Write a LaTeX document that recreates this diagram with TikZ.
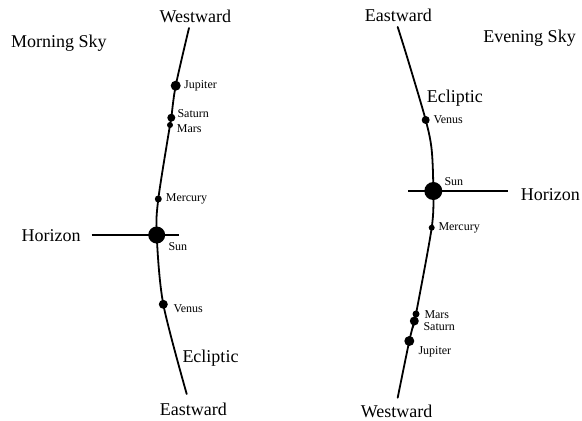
\documentclass[tikz,border=0pt]{standalone}
\usepackage{fontspec}
\setmainfont{Liberation Serif}
\tikzset{
  bigtext/.style={font=\fontsize{18}{20}\selectfont, inner sep=0pt},
  smalltext/.style={font=\fontsize{12}{14}\selectfont, inner sep=0pt, anchor=west},
  planet/.style={circle, fill=black, inner sep=0pt, minimum size=#1},
  ecliptic/.style={line width=1.8pt, line cap=round},
  horizon/.style={line width=1.3pt}
}

\begin{document}
\begin{tikzpicture}[x=1pt,y=-1pt]
\useasboundingbox (0,0) rectangle (582,421);
\coordinate (LT) at (189,28); \coordinate (LJ) at (175.7,85.7); \coordinate (LS) at (171.3,117.7); \coordinate (LM) at (170,125);
\coordinate (LMe) at (158.3,199); \coordinate (LSun) at (156.7,235); \coordinate (LV) at (163.3,304.3); \coordinate (LB) at (186.7,394);
\coordinate (LH1) at (91.7,235); \coordinate (LH2) at (179,235);
\draw[ecliptic] plot[smooth, tension=0.5] coordinates {(LT) (LJ) (LS) (LM) (LMe) (LSun) (LV) (LB)};
\draw[horizon] (LH1) -- (LH2);
\node[planet=10pt] (jupL) at (LJ) {}; \node[planet=8pt] (satL) at (LS) {}; \node[planet=6pt] (marL) at (LM) {};
\node[planet=7pt] (merL) at (LMe) {}; \node[planet=17pt] (sunL) at (LSun) {}; \node[planet=9pt] (venL) at (LV) {};
\node[bigtext] (westL) at (195.3,16.7) {Westward}; \node[bigtext] (mornL) at (58.8,43) {Morning Sky};
\node[bigtext] (horL) at (51.2,236) {Horizon}; \node[bigtext, anchor=west] (eclL) at (182.3,357.7) {Ecliptic};
\node[bigtext] (eastL) at (193.3,409) {Eastward};
\node[smalltext] (tJupL) at (184,85.7) {Jupiter}; \node[smalltext] (tSatL) at (177.3,114) {Saturn};
\node[smalltext] (tMarL) at (176.7,129) {Mars}; \node[smalltext] (tMerL) at (165.7,199) {Mercury};
\node[smalltext] (tSunL) at (168.3,247) {Sun}; \node[smalltext] (tVenL) at (173.3,309) {Venus};
\coordinate (RT) at (397.7,27); \coordinate (RA) at (408,60); \coordinate (RV) at (425.7,120); \coordinate (RC) at (431.7,150);
\coordinate (RSun) at (433.3,191); \coordinate (RMe) at (431.7,227.7); \coordinate (RM) at (416,314); \coordinate (RS) at (414.3,321);
\coordinate (RJ) at (409.3,341); \coordinate (RB) at (397.7,397.7);
\coordinate (RH1) at (408,191); \coordinate (RH2) at (508,191);
\draw[ecliptic] plot[smooth, tension=0.5] coordinates {(RT) (RA) (RV) (RC) (RSun) (RMe) (RM) (RS) (RJ) (RB)};
\draw[horizon] (RH1) -- (RH2);
\node[planet=8pt] (venR) at (RV) {}; \node[planet=18pt] (sunR) at (RSun) {}; \node[planet=6pt] (merR) at (RMe) {};
\node[planet=7pt] (marR) at (RM) {}; \node[planet=9pt] (satR) at (RS) {}; \node[planet=10pt] (jupR) at (RJ) {};
\node[bigtext] (eastR) at (398.3,15) {Eastward}; \node[bigtext] (evenR) at (529.5,38) {Evening Sky};
\node[bigtext, anchor=west] (eclR) at (426.7,98) {Ecliptic}; \node[bigtext] (horR) at (550.3,195) {Horizon};
\node[bigtext] (westR) at (396.7,411) {Westward};
\node[smalltext] (tVenR) at (433.3,120) {Venus}; \node[smalltext] (tSunR) at (444.3,181.7) {Sun};
\node[smalltext] (tMerR) at (438.3,227.7) {Mercury}; \node[smalltext] (tMarR) at (424.3,314.3) {Mars};
\node[smalltext] (tSatR) at (423.3,326.7) {Saturn}; \node[smalltext] (tJupR) at (418.3,351.7) {Jupiter};
\end{tikzpicture}
\end{document}
